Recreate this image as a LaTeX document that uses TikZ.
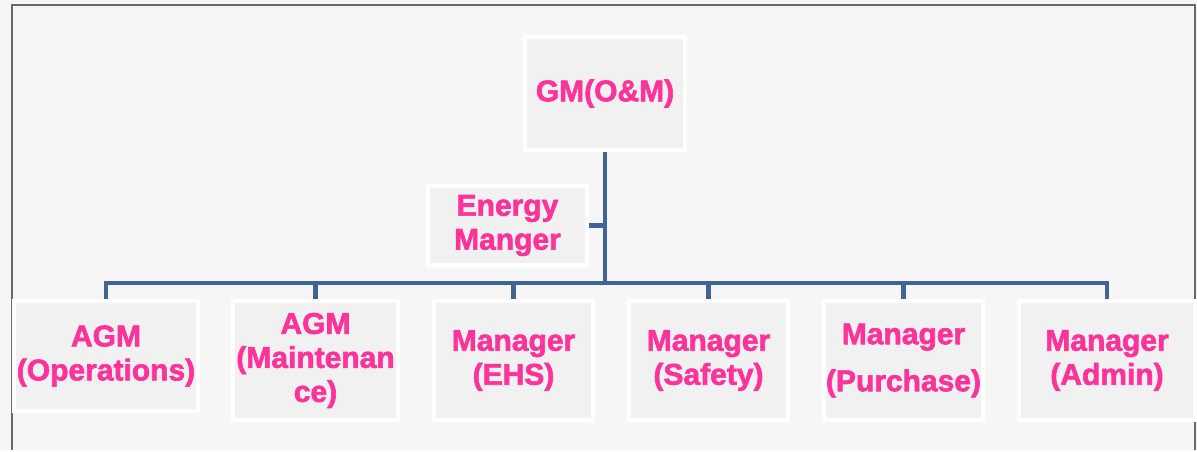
\documentclass[tikz,border=0pt]{standalone}
\usepackage{fontspec}
\setmainfont{Liberation Sans}[BoldFeatures={FakeBold=2}]
\definecolor{paper}{RGB}{246,246,246}
\definecolor{boxgray}{RGB}{241,241,241}
\definecolor{pinktxt}{RGB}{255,51,153}
\definecolor{linkblue}{RGB}{64,101,148}
\definecolor{framegray}{RGB}{105,105,105}

\begin{document}
\begin{tikzpicture}[x=1pt,y=-1pt,
  post/.style={fill=boxgray,draw=white,line width=4pt,text=pinktxt,
    font=\bfseries\fontsize{30}{34}\selectfont,align=center,inner sep=0pt},
  link/.style={draw=linkblue,line width=4.5pt}]
\fill[color=paper] (0,0) rectangle (1197,450);

\draw[color=framegray,line width=2pt] (12,450)--(12,5)--(1195,5)--(1195,450);

\node[post,minimum width=160,minimum height=113] (gm) at (605,93.5) {GM(O\&M)};
\node[post,minimum width=159,minimum height=79] (energy) at (507.5,225.5) {Energy\\Manger};

\node[post,minimum width=184,minimum height=110] (ops) at (106,356) {AGM\\(Operations)};
\node[post,minimum width=165,minimum height=119] (maint) at (315.5,360.5) {AGM\\(Maintenan\\ce)};
\node[post,minimum width=159,minimum height=119] (ehs) at (513.5,360.5) {Manager\\(EHS)};
\node[post,minimum width=159,minimum height=119] (safety) at (708.5,360.5) {Manager\\(Safety)};
\node[post,minimum width=159,minimum height=119] (purchase) at (903.5,360.5) {Manager\\[13pt](Purchase)};
\node[post,minimum width=176,minimum height=119] (admin) at (1107,360.5) {Manager\\(Admin)};

\coordinate (bus) at (605,283);

\draw[link] (gm.south) -- (gm.south |- bus);
\draw[link] (energy.east) -- (energy.east -| gm.south);
\draw[link,line cap=rect] (ops.north |- bus) -- (admin.north |- bus);
\foreach \post in {ops,maint,ehs,safety,purchase,admin}{
\draw[link] (\post.north |- bus) -- (\post.north);
}

\end{tikzpicture}
\end{document}
